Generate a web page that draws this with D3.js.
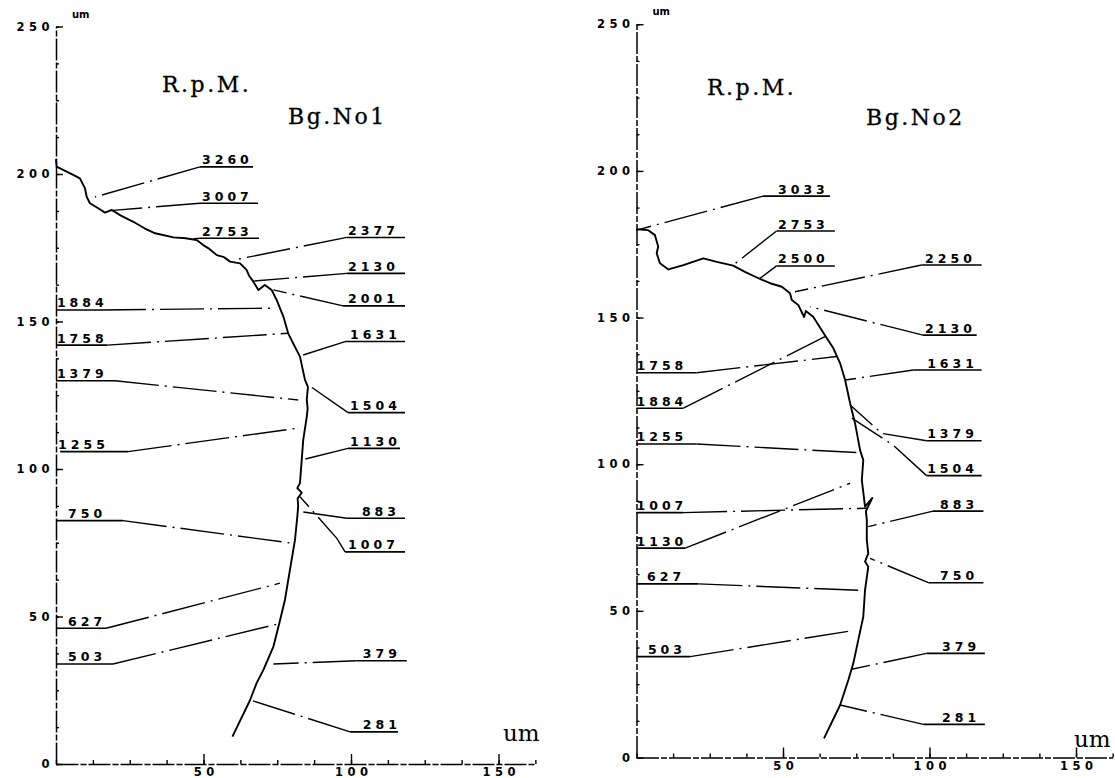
<!DOCTYPE html>
<html><head><meta charset="utf-8">
<script src="https://cdn.jsdelivr.net/npm/d3@7"></script>
<style>
body{margin:0;background:#fff;}
svg{display:block;background:#fff;}
</style></head><body>
<svg id="c" width="1115" height="778"></svg>
<script>
// ---------------- data ----------------
const xMinorTicks = d3.range(0, 162.51, 12.5);
const yMinorTicks = d3.range(0, 250.01, 12.5);
const xTickLabels = [50, 100, 150];
const yTickLabels = [0, 50, 100, 150, 200, 250];
const axisUnit = "um";
const titles1 = ["R.p.M.", "Bg.No1"];
const titles2 = ["R.p.M.", "Bg.No2"];

// bearing 1 profile (x um, y um)
const curve1 = [[0,205],[0.2,202.5],[3.6,200.8],[6,199.6],[8.1,198.5],[9.8,195.2],[10.4,192.3],[11.5,190.1],
 [14.3,188.4],[16.6,186.9],[18.9,187.8],[22,185.9],[26.2,183.8],[30,181.6],[33.6,179.9],[39.8,178.5],
 [44,178.2],[47.7,177.6],[49.9,175.9],[52,174.6],[54.5,172.5],[57,171.8],[59,170.3],[62.4,169.7],
 [64.6,167.5],[65.4,165.6],[66.9,163.5],[68.6,160.7],[70.8,162.4],[73.1,160.7],[74.8,157.3],[77.1,151.6],
 [78.7,146],[80.4,142.6],[82.7,138.1],[84.4,130.2],[85.4,127.8],[85,123.4],[85.3,120.5],[85,117.7],
 [83.8,109.8],[83.3,103.1],[82.7,95.2],[81.8,93.5],[83.3,92],[81.9,90],[82.1,87.5],[81.8,83.8],
 [81,75.9],[79.3,65.8],[77.6,55.6],[75.7,47.7],[73.7,39.8],[70.3,31.9],[68,27.4],[65.8,21.7],[59.8,9.3]];

const rpm1 = ["3260","3007","2753","2377","2130","2001","1884","1758","1631","1379",
 "1504","1255","1130","750","883","1007","627","503","379","281"];
const textX1 = [49.5,49.5,49.5,99,99,99,0.3,0.3,99.7,0.3,99.7,0.7,99.7,4.1,103.7,99,4.1,4.1,104,104];
const underline1 = [[48.8,66.8,202.4],[48.8,68.5,190.1],[48.8,68.8,178.2],[98.6,118.3,178.5],[98.6,118.3,166.3],
 [97.3,118.3,155.3],[0,15.6,153.9],[0,17.3,142],[98,118.3,143.2],[0,20,129.9],[99,118.3,119.1],[1.4,24.4,105.9],
 [99,116.6,107],[0.3,22.7,82.5],[98.6,118.3,83.3],[98,118.3,71.9],[0,17,46],[0,19.3,33.9],[101.9,118.9,35],[99.7,115.9,10.9]];
const target1 = [[13.2,192.2],[18.3,187.6],[46.4,178],[60.1,170.8],[66.9,163.7],[73.7,160.7],[72.5,154.5],[78.7,146],
 [82.1,138.1],[82.1,123.4],[85.5,128.5],[81.6,113.8],[83.3,103.1],[80.4,74.8],[83.3,85.5],[82.7,90.6],
 [75.9,61.3],[75.4,47.5],[73.7,33.9],[65.8,21.7]];
const bend1 = {"1007": [95.2,76.5]};

// bearing 2 profile
const curve2 = [[0,180.1],[4,179.8],[6.3,178.1],[7.4,174.2],[6.9,171.9],[8,168.5],[10.9,166.4],[16,167.9],
 [22.8,170.2],[27.4,169],[33,167.7],[37,165.6],[41.6,163.4],[45.6,161.7],[49.6,160.5],[52.4,158.3],[53,156],
 [55.2,154.3],[57.2,150.2],[57.8,152.2],[60.3,150.3],[64.3,144],[67.2,139.5],[69.5,134.4],[71.2,128.7],
 [72.9,120.8],[74.6,113.9],[76.3,104.8],[77.4,101.4],[76.9,94.6],[78,85.5],[80.5,88.5],[78.3,84],[78.6,81],
 [78.6,74.2],[79.1,69.6],[78,66.8],[79.1,65],[78,57.1],[77.4,48],[75.7,40.1],[74,32.1],[72.3,26.4],
 [69.5,17.9],[64,6.5]];

const rpm2 = ["3033","2753","2500","2250","2130","1758","1884","1631","1379","1504",
 "1255","1007","1130","883","750","627","503","379","281"];
const textX2 = [48.3,48.3,48.3,98.5,98.5,0,0,99.2,99.2,99.2,0,0,0,103.6,103.6,3.6,3.9,104.3,104.3];
const underline2 = [[43.2,66,191.4],[47.8,67.7,179.5],[47.8,67.7,167.6],[97.3,117.8,167.9],[97.8,116.1,144],
 [0,20.5,131.2],[0,16,119.1],[94.5,117.8,132.1],[99,117.8,108],[99,117.8,96.1],[0,20.5,106.9],[0,15.9,83.5],
 [0,16.6,71.4],[101.2,118.4,84],[99.6,118.4,59.6],[0,21.1,59.2],[0,18.3,34.4],[99,118.9,35.5],[97.9,118.9,11.3]];
const target2 = [[0,179.8],[33,167.9],[42.2,163.4],[54.1,158.8],[59.2,153.7],[68.3,136.7],[64.3,143.5],
 [71.2,128.7],[72.9,120.2],[73.5,115.7],[76.3,103.9],[78.6,85],[72.9,93.5],[79.1,78.7],[79.7,67.9],
 [78.2,56.9],[73.4,43.2],[73.4,30.1],[69.5,17.9]];
const bend2 = {"1379": [83.7,110.5], "1504": [87.6,106.5]};

// ---------------- drawing ----------------
const svg = d3.select("#c");
const plotFont = "'DejaVu Sans', sans-serif";
const serifFont = "'DejaVu Serif', serif";
const tickLS = 4.5;

function panel(cfg, curve, rpm, textX, underline, target, bend, titles) {
  const x = d3.scaleLinear().domain([0, 162.5]).range([cfg.x0, cfg.x0 + 162.5 * cfg.kx]);
  const y = d3.scaleLinear().domain([0, 250]).range([cfg.y0, cfg.y0 - 250 * cfg.ky]);
  const g = svg.append("g");

  // axes
  const xMinor = g.append("g").attr("transform", `translate(0,${cfg.y0})`)
    .call(d3.axisBottom(x).tickValues(xMinorTicks).tickSizeInner(-4).tickSizeOuter(0).tickFormat(""));
  const xMajor = g.append("g").attr("transform", `translate(0,${cfg.y0})`)
    .call(d3.axisBottom(x).tickValues(xTickLabels).tickSizeInner(-10).tickSizeOuter(0).tickPadding(4));
  const yMinor = g.append("g").attr("transform", `translate(${cfg.x0},0)`)
    .call(d3.axisLeft(y).tickValues(yMinorTicks).tickSizeInner(-3).tickSizeOuter(0).tickFormat(""));
  const yMajor = g.append("g").attr("transform", `translate(${cfg.x0},0)`)
    .call(d3.axisLeft(y).tickValues(yTickLabels).tickSizeInner(-7).tickSizeOuter(0).tickPadding(2));
  [xMajor, yMajor].forEach(a => a.select(".domain").remove());
  [xMinor, yMinor].forEach(a => a.select(".domain")
    .attr("stroke", "#000").attr("stroke-width", 1.5).attr("stroke-dasharray", "22,2,6,2"));
  g.selectAll(".tick line").attr("stroke", "#000").attr("stroke-width", 1.4);
  g.selectAll(".tick text").attr("fill", "#000").attr("font-family", plotFont)
    .attr("font-weight", "bold").attr("font-size", 11.5).attr("letter-spacing", tickLS + "px");
  xMajor.selectAll(".tick text").attr("dx", tickLS / 2);

  // small unit at top of y axis
  g.append("text").attr("x", cfg.x0 + 16).attr("y", y(250) - 9).text(axisUnit)
    .attr("font-family", plotFont).attr("font-weight", "bold").attr("font-size", 10);
  // unit at bottom right
  g.append("text").attr("x", x(cfg.umX)).attr("y", cfg.umY).text(axisUnit)
    .attr("font-family", serifFont).attr("font-size", 23);

  // titles
  g.append("text").attr("x", cfg.t1[0]).attr("y", cfg.t1[1]).text(titles[0])
    .attr("font-family", serifFont).attr("font-size", 22).attr("letter-spacing", "2.5px")
    .attr("stroke", "#000").attr("stroke-width", 0.3);
  g.append("text").attr("x", cfg.t2[0]).attr("y", cfg.t2[1]).text(titles[1])
    .attr("font-family", serifFont).attr("font-size", 22).attr("letter-spacing", "2.5px")
    .attr("stroke", "#000").attr("stroke-width", 0.3);

  // profile curve
  g.append("path").datum(curve)
    .attr("d", d3.line().x(d => x(d[0])).y(d => y(d[1])))
    .attr("fill", "none").attr("stroke", "#000").attr("stroke-width", 1.9).attr("stroke-linejoin", "round");

  // labels
  rpm.forEach((r, i) => {
    const [u0, u1, uy] = underline[i];
    const [tx, ty] = target[i];
    const startX = tx < u0 ? u0 : u1;
    const pts = [[startX, uy]];
    if (bend[r]) pts.push(bend[r]);
    pts.push([tx, ty]);
    g.append("path").datum(pts)
      .attr("d", d3.line().x(d => x(d[0])).y(d => y(d[1])))
      .attr("fill", "none").attr("stroke", "#000").attr("stroke-width", 1.4)
      .attr("stroke-dasharray", "44,6,2,6");
    g.append("line").attr("x1", x(u0)).attr("x2", x(u1)).attr("y1", y(uy)).attr("y2", y(uy))
      .attr("stroke", "#000").attr("stroke-width", 1.6);
    g.append("text").attr("x", x(textX[i])).attr("y", y(uy) - 2.5).text(r)
      .attr("font-family", plotFont).attr("font-weight", "bold").attr("font-size", 12.5)
      .attr("letter-spacing", "4px");
  });
}

panel({x0: 56, y0: 764, kx: 2.95, ky: 2.95, umX: 151.5, umY: 741, t1: [162, 92], t2: [288, 124]},
  curve1, rpm1, textX1, underline1, target1, bend1, titles1);
panel({x0: 636.5, y0: 757.5, kx: 2.93, ky: 2.933, umX: 149.3, umY: 747, t1: [707, 95], t2: [866, 125]},
  curve2, rpm2, textX2, underline2, target2, bend2, titles2);
</script>
</body></html>
